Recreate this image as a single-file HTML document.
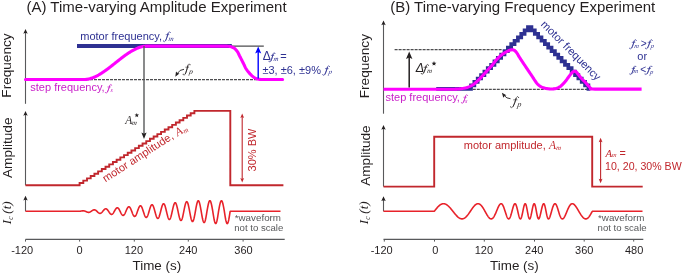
<!DOCTYPE html>
<html><head><meta charset="utf-8"><style>
html,body{margin:0;padding:0;background:#fff;width:685px;height:274px;overflow:hidden;}
svg{display:block;will-change:transform;}
</style></head><body>
<svg width="685" height="274" viewBox="0 0 685 274" style="font-family:'Liberation Sans',sans-serif">
<rect width="685" height="274" fill="#fff"/>
<text x="26.47" y="12" style="font-family:'Liberation Sans',sans-serif;font-size:15px" fill="#231f20" >(A) Time-varying Amplitude Experiment</text>
<text x="390.17" y="12" style="font-family:'Liberation Sans',sans-serif;font-size:15px" fill="#231f20" >(B) Time-varying Frequency Experiment</text>
<text transform="translate(11.1,65.55) rotate(-90)" text-anchor="middle" style="font-family:'Liberation Sans',sans-serif;font-size:13.6px" fill="#231f20">Frequency</text>
<text transform="translate(11.8,147.75) rotate(-90)" text-anchor="middle" style="font-family:'Liberation Sans',sans-serif;font-size:13.6px" fill="#231f20">Amplitude</text>
<text transform="translate(10.8,224.3) rotate(-90)" style="font-family:'Liberation Serif',serif;font-style:italic;font-size:13px" fill="#231f20">I<tspan style="font-size:7.3px" dx="0.14" dy="2.1">c</tspan><tspan dx="2.93" dy="-2.1">(</tspan>t)</text>
<text transform="translate(369.1,66.15) rotate(-90)" text-anchor="middle" style="font-family:'Liberation Sans',sans-serif;font-size:13.6px" fill="#231f20">Frequency</text>
<text transform="translate(369.8,155.6) rotate(-90)" text-anchor="middle" style="font-family:'Liberation Sans',sans-serif;font-size:13.6px" fill="#231f20">Amplitude</text>
<text transform="translate(368.3,224.3) rotate(-90)" style="font-family:'Liberation Serif',serif;font-style:italic;font-size:13px" fill="#231f20">I<tspan style="font-size:7.3px" dx="0.14" dy="2.1">c</tspan><tspan dx="2.93" dy="-2.1">(</tspan>t)</text>
<line x1="25.5" y1="32" x2="25.5" y2="103.8" stroke="#58595b" stroke-width="1.1"/>
<path d="M25.5 29 L27.7 33.8 L25.5 32.84 L23.3 33.8 Z" fill="#231f20"/>
<line x1="25.5" y1="114" x2="25.5" y2="185.3" stroke="#58595b" stroke-width="1.1"/>
<path d="M25.5 111 L27.7 115.8 L25.5 114.84 L23.3 115.8 Z" fill="#231f20"/>
<line x1="25.5" y1="198.7" x2="25.5" y2="211.3" stroke="#58595b" stroke-width="1.1"/>
<path d="M25.5 195.7 L27.7 200.5 L25.5 199.54 L23.3 200.5 Z" fill="#231f20"/>
<line x1="383.5" y1="23.5" x2="383.5" y2="113.7" stroke="#58595b" stroke-width="1.1"/>
<path d="M383.5 20.5 L385.7 25.3 L383.5 24.34 L381.3 25.3 Z" fill="#231f20"/>
<line x1="383.5" y1="127.9" x2="383.5" y2="186.6" stroke="#58595b" stroke-width="1.1"/>
<path d="M383.5 124.9 L385.7 129.7 L383.5 128.74 L381.3 129.7 Z" fill="#231f20"/>
<line x1="383.5" y1="199.3" x2="383.5" y2="211.3" stroke="#58595b" stroke-width="1.1"/>
<path d="M383.5 196.3 L385.7 201.1 L383.5 200.14 L381.3 201.1 Z" fill="#231f20"/>
<line x1="25.5" y1="239.4" x2="284.7" y2="239.4" stroke="#58595b" stroke-width="1.1"/>
<line x1="25.5" y1="239.4" x2="25.5" y2="241.6" stroke="#58595b" stroke-width="1"/>
<text x="11.21" y="253.5" style="font-family:'Liberation Sans',sans-serif;font-size:11px" fill="#231f20" >-120</text>
<line x1="79.6" y1="239.4" x2="79.6" y2="241.6" stroke="#58595b" stroke-width="1"/>
<text x="76.47" y="253.5" style="font-family:'Liberation Sans',sans-serif;font-size:11px" fill="#231f20" >0</text>
<line x1="134.3" y1="239.4" x2="134.3" y2="241.6" stroke="#58595b" stroke-width="1"/>
<text x="124.66" y="253.5" style="font-family:'Liberation Sans',sans-serif;font-size:11px" fill="#231f20" >120</text>
<line x1="188.3" y1="239.4" x2="188.3" y2="241.6" stroke="#58595b" stroke-width="1"/>
<text x="179.05" y="253.5" style="font-family:'Liberation Sans',sans-serif;font-size:11px" fill="#231f20" >240</text>
<line x1="243.1" y1="239.4" x2="243.1" y2="241.6" stroke="#58595b" stroke-width="1"/>
<text x="234.28" y="253.5" style="font-family:'Liberation Sans',sans-serif;font-size:11px" fill="#231f20" >360</text>
<line x1="383.5" y1="239.4" x2="643.3" y2="239.4" stroke="#58595b" stroke-width="1.1"/>
<line x1="384.3" y1="239.4" x2="384.3" y2="241.6" stroke="#58595b" stroke-width="1"/>
<text x="370.71" y="253.5" style="font-family:'Liberation Sans',sans-serif;font-size:11px" fill="#231f20" >-120</text>
<line x1="434.5" y1="239.4" x2="434.5" y2="241.6" stroke="#58595b" stroke-width="1"/>
<text x="432.37" y="253.5" style="font-family:'Liberation Sans',sans-serif;font-size:11px" fill="#231f20" >0</text>
<line x1="484.3" y1="239.4" x2="484.3" y2="241.6" stroke="#58595b" stroke-width="1"/>
<text x="474.66" y="253.5" style="font-family:'Liberation Sans',sans-serif;font-size:11px" fill="#231f20" >120</text>
<line x1="534.5" y1="239.4" x2="534.5" y2="241.6" stroke="#58595b" stroke-width="1"/>
<text x="525.05" y="253.5" style="font-family:'Liberation Sans',sans-serif;font-size:11px" fill="#231f20" >240</text>
<line x1="584.2" y1="239.4" x2="584.2" y2="241.6" stroke="#58595b" stroke-width="1"/>
<text x="575.08" y="253.5" style="font-family:'Liberation Sans',sans-serif;font-size:11px" fill="#231f20" >360</text>
<line x1="633.7" y1="239.4" x2="633.7" y2="241.6" stroke="#58595b" stroke-width="1"/>
<text x="624.95" y="253.5" style="font-family:'Liberation Sans',sans-serif;font-size:11px" fill="#231f20" >480</text>
<text x="132.5" y="269.8" style="font-family:'Liberation Sans',sans-serif;font-size:13.4px" fill="#231f20" >Time (s)</text>
<text x="490.1" y="269.8" style="font-family:'Liberation Sans',sans-serif;font-size:13.4px" fill="#231f20" >Time (s)</text>
<line x1="26" y1="79.5" x2="257" y2="79.5" stroke="#4d4d4f" stroke-width="1.25" stroke-dasharray="3 1"/>
<line x1="231" y1="46.2" x2="263.8" y2="46.2" stroke="#4d4d4f" stroke-width="1.3"/>
<line x1="77" y1="46" x2="231.8" y2="46" stroke="#2e3192" stroke-width="4"/>
<path d="M25.5 79.5 L26 79.5 L26.5 79.5 L27 79.5 L27.5 79.5 L28 79.5 L28.5 79.5 L29 79.5 L29.5 79.5 L30 79.5 L30.5 79.5 L31 79.5 L31.5 79.5 L32 79.5 L32.5 79.5 L33 79.5 L33.5 79.5 L34 79.5 L34.5 79.5 L35 79.5 L35.5 79.5 L36 79.5 L36.5 79.5 L37 79.5 L37.5 79.5 L38 79.5 L38.5 79.5 L39 79.5 L39.5 79.5 L40 79.5 L40.5 79.5 L41 79.5 L41.5 79.5 L42 79.5 L42.5 79.5 L43 79.5 L43.5 79.5 L44 79.5 L44.5 79.5 L45 79.5 L45.5 79.5 L46 79.5 L46.5 79.5 L47 79.5 L47.5 79.5 L48 79.5 L48.5 79.5 L49 79.5 L49.5 79.5 L50 79.5 L50.5 79.5 L51 79.5 L51.5 79.5 L52 79.5 L52.5 79.5 L53 79.5 L53.5 79.5 L54 79.5 L54.5 79.5 L55 79.5 L55.5 79.5 L56 79.5 L56.5 79.5 L57 79.5 L57.5 79.5 L58 79.5 L58.5 79.5 L59 79.5 L59.5 79.5 L60 79.5 L60.5 79.5 L61 79.5 L61.5 79.5 L62 79.5 L62.5 79.5 L63 79.5 L63.5 79.5 L64 79.5 L64.5 79.5 L65 79.5 L65.5 79.5 L66 79.5 L66.5 79.5 L67 79.5 L67.5 79.5 L68 79.5 L68.5 79.5 L69 79.5 L69.5 79.5 L70 79.5 L70.5 79.5 L71 79.5 L71.5 79.5 L72 79.5 L72.5 79.5 L73 79.5 L73.5 79.5 L74 79.5 L74.5 79.5 L75 79.5 L75.5 79.5 L76 79.5 L76.5 79.5 L77 79.5 L77.5 79.5 L78 79.5 L78.5 79.5 L79 79.5 L79.5 79.5 L80 79.5 L80.5 79.5 L81 79.5 L81.5 79.5 L82 79.5 L82.5 79.5 L83 79.5 L83.5 79.5 L84 79.5 L84.5 79.49 L85 79.48 L85.5 79.44 L86 79.4 L86.5 79.35 L87 79.28 L87.5 79.2 L88 79.11 L88.5 79.01 L89 78.9 L89.5 78.78 L90 78.65 L90.5 78.51 L91 78.35 L91.5 78.19 L92 78.02 L92.5 77.84 L93 77.65 L93.5 77.45 L94 77.24 L94.5 77.03 L95 76.8 L95.5 76.57 L96 76.33 L96.5 76.08 L97 75.82 L97.5 75.56 L98 75.28 L98.5 75.01 L99 74.72 L99.5 74.43 L100 74.13 L100.5 73.83 L101 73.52 L101.5 73.2 L102 72.88 L102.5 72.55 L103 72.22 L103.5 71.88 L104 71.54 L104.5 71.19 L105 70.84 L105.5 70.49 L106 70.13 L106.5 69.76 L107 69.4 L107.5 69.03 L108 68.65 L108.5 68.28 L109 67.9 L109.5 67.51 L110 67.13 L110.5 66.74 L111 66.35 L111.5 65.96 L112 65.57 L112.5 65.18 L113 64.78 L113.5 64.39 L114 63.99 L114.5 63.59 L115 63.2 L115.5 62.8 L116 62.4 L116.5 62.01 L117 61.61 L117.5 61.21 L118 60.82 L118.5 60.42 L119 60.03 L119.5 59.64 L120 59.25 L120.5 58.86 L121 58.47 L121.5 58.09 L122 57.7 L122.5 57.32 L123 56.95 L123.5 56.57 L124 56.2 L124.5 55.84 L125 55.47 L125.5 55.11 L126 54.76 L126.5 54.41 L127 54.06 L127.5 53.72 L128 53.38 L128.5 53.05 L129 52.72 L129.5 52.4 L130 52.08 L130.5 51.77 L131 51.47 L131.5 51.17 L132 50.88 L132.5 50.59 L133 50.32 L133.5 50.04 L134 49.78 L134.5 49.52 L135 49.27 L135.5 49.03 L136 48.8 L136.5 48.57 L137 48.36 L137.5 48.15 L138 47.95 L138.5 47.76 L139 47.58 L139.5 47.41 L140 47.25 L140.5 47.09 L141 46.95 L141.5 46.82 L142 46.7 L142.5 46.59 L143 46.49 L143.5 46.4 L144 46.32 L144.5 46.25 L145 46.2 L145.5 46.16 L146 46.12 L146.5 46.11 L147 46.1 L147.5 46.1 L148 46.1 L148.5 46.1 L149 46.1 L149.5 46.1 L150 46.1 L150.5 46.1 L151 46.1 L151.5 46.1 L152 46.1 L152.5 46.1 L153 46.1 L153.5 46.1 L154 46.1 L154.5 46.1 L155 46.1 L155.5 46.1 L156 46.1 L156.5 46.1 L157 46.1 L157.5 46.1 L158 46.1 L158.5 46.1 L159 46.1 L159.5 46.1 L160 46.1 L160.5 46.1 L161 46.1 L161.5 46.1 L162 46.1 L162.5 46.1 L163 46.1 L163.5 46.1 L164 46.1 L164.5 46.1 L165 46.1 L165.5 46.1 L166 46.1 L166.5 46.1 L167 46.1 L167.5 46.1 L168 46.1 L168.5 46.1 L169 46.1 L169.5 46.1 L170 46.1 L170.5 46.1 L171 46.1 L171.5 46.1 L172 46.1 L172.5 46.1 L173 46.1 L173.5 46.1 L174 46.1 L174.5 46.1 L175 46.1 L175.5 46.1 L176 46.1 L176.5 46.1 L177 46.1 L177.5 46.1 L178 46.1 L178.5 46.1 L179 46.1 L179.5 46.1 L180 46.1 L180.5 46.1 L181 46.1 L181.5 46.1 L182 46.1 L182.5 46.1 L183 46.1 L183.5 46.1 L184 46.1 L184.5 46.1 L185 46.1 L185.5 46.1 L186 46.1 L186.5 46.1 L187 46.1 L187.5 46.1 L188 46.1 L188.5 46.1 L189 46.1 L189.5 46.1 L190 46.1 L190.5 46.1 L191 46.1 L191.5 46.1 L192 46.1 L192.5 46.1 L193 46.1 L193.5 46.1 L194 46.1 L194.5 46.1 L195 46.1 L195.5 46.1 L196 46.1 L196.5 46.1 L197 46.1 L197.5 46.1 L198 46.1 L198.5 46.1 L199 46.1 L199.5 46.1 L200 46.1 L200.5 46.1 L201 46.1 L201.5 46.1 L202 46.1 L202.5 46.1 L203 46.1 L203.5 46.1 L204 46.1 L204.5 46.1 L205 46.1 L205.5 46.1 L206 46.1 L206.5 46.1 L207 46.1 L207.5 46.1 L208 46.1 L208.5 46.1 L209 46.1 L209.5 46.1 L210 46.1 L210.5 46.1 L211 46.1 L211.5 46.1 L212 46.1 L212.5 46.1 L213 46.1 L213.5 46.1 L214 46.1 L214.5 46.1 L215 46.1 L215.5 46.1 L216 46.1 L216.5 46.1 L217 46.1 L217.5 46.1 L218 46.1 L218.5 46.1 L219 46.1 L219.5 46.1 L220 46.1 L220.5 46.1 L221 46.1 L221.5 46.1 L222 46.1 L222.5 46.1 L223 46.1 L223.5 46.1 L224 46.1 L224.5 46.1 L225 46.1 L225.5 46.1 L226.29 46.12 L226.67 46.14 L227.14 46.17 L227.65 46.21 L228.18 46.25 L228.7 46.29 L229.18 46.34 L229.6 46.4 L229.96 46.46 L230.28 46.54 L230.59 46.61 L230.87 46.69 L231.15 46.78 L231.43 46.88 L231.71 46.99 L232 47.1 L232.31 47.22 L232.62 47.36 L232.94 47.5 L233.25 47.64 L233.56 47.8 L233.86 47.96 L234.14 48.13 L234.4 48.3 L234.64 48.48 L234.85 48.66 L235.05 48.84 L235.24 49.04 L235.43 49.24 L235.61 49.45 L235.8 49.67 L236 49.9 L236.21 50.14 L236.42 50.38 L236.63 50.62 L236.84 50.88 L237.05 51.15 L237.27 51.44 L237.48 51.75 L237.7 52.1 L237.92 52.48 L238.13 52.89 L238.35 53.32 L238.57 53.77 L238.79 54.24 L239.02 54.72 L239.26 55.21 L239.5 55.7 L239.76 56.2 L240.02 56.72 L240.3 57.26 L240.57 57.8 L240.86 58.35 L241.14 58.9 L241.42 59.45 L241.7 60 L241.97 60.55 L242.25 61.09 L242.52 61.64 L242.8 62.19 L243.07 62.75 L243.35 63.3 L243.62 63.85 L243.9 64.4 L244.17 64.95 L244.42 65.5 L244.67 66.04 L244.92 66.59 L245.18 67.14 L245.46 67.69 L245.76 68.24 L246.1 68.8 L246.47 69.37 L246.87 69.96 L247.3 70.55 L247.74 71.15 L248.2 71.74 L248.67 72.32 L249.13 72.87 L249.6 73.4 L250.07 73.91 L250.56 74.41 L251.05 74.9 L251.55 75.38 L252.05 75.83 L252.54 76.25 L253.03 76.64 L253.5 77 L253.96 77.32 L254.41 77.6 L254.86 77.86 L255.31 78.09 L255.74 78.29 L256.17 78.48 L256.59 78.64 L257 78.8 L257.4 78.94 L257.79 79.05 L258.16 79.13 L258.53 79.21 L258.9 79.26 L259.26 79.31 L259.63 79.36 L260 79.4 L260.26 79.44 L260.36 79.46 L260.4 79.48 L260.46 79.49 L260.66 79.49 L261.08 79.49 L261.83 79.5 L263 79.5 L264.79 79.5 L267.19 79.51 L270 79.51 L272.99 79.51 L275.96 79.5 L278.69 79.5 L280.97 79.5 L282.6 79.5" fill="none" stroke="#ff00ff" stroke-width="3.1" stroke-linejoin="round" stroke-linecap="round"/>
<line x1="144" y1="46" x2="144" y2="134" stroke="#58595b" stroke-width="1.4"/>
<path d="M144 138.9 L146.6 132.6 L144 133.86 L141.4 132.6 Z" fill="#231f20"/>
<line x1="258.2" y1="52" x2="258.2" y2="78.6" stroke="#0000ff" stroke-width="1.4"/>
<path d="M258.2 46.4 L261.25 53.4 L258.2 52 L255.15 53.4 Z" fill="#0000ff"/>
<text x="80.27" y="39.6" style="font-family:'Liberation Sans',sans-serif;font-size:11px" fill="#2e3192" >motor frequency,</text>
<g fill="none" stroke="#2e3192" stroke-linecap="round"><path d="M170.2 32.61 C170.12 31.9 169.37 31.63 168.94 31.9 C168.52 32.17 168.25 32.77 168.09 33.42 C167.55 35.58 166.48 38.93 165.62 40.55 C165.08 41.53 164.33 41.85 163.9 41.64 C163.58 41.47 163.47 41.2 163.51 40.9" stroke-width="0.6"/><path d="M168.09 33.42 C167.55 35.58 166.48 38.93 165.62 40.55" stroke-width="0.84"/><path d="M166.08 34.71 L168.9 34.71" stroke-width="0.6"/><circle cx="170.2" cy="32.61" r="0.44" fill="#2e3192" stroke="none"/><circle cx="163.51" cy="40.9" r="0.4" fill="#2e3192" stroke="none"/></g>
<text transform="translate(168.15,40.9) skewX(-10)" style="font-family:'Liberation Serif',serif;font-size:7px;font-style:italic" fill="#2e3192">m</text>
<text x="30.29" y="91.1" style="font-family:'Liberation Sans',sans-serif;font-size:11px" fill="#c81ec8" >step frequency,</text>
<g fill="none" stroke="#c81ec8" stroke-linecap="round"><path d="M111.6 85.11 C111.53 84.49 110.84 84.25 110.44 84.49 C110.04 84.73 109.79 85.25 109.64 85.82 C109.15 87.72 108.16 90.67 107.36 92.09 C106.86 92.95 106.17 93.23 105.77 93.04 C105.47 92.9 105.38 92.66 105.4 92.4" stroke-width="0.6"/><path d="M109.64 85.82 C109.15 87.72 108.16 90.67 107.36 92.09" stroke-width="0.84"/><path d="M107.79 86.96 L110.4 86.96" stroke-width="0.6"/><circle cx="111.6" cy="85.11" r="0.44" fill="#c81ec8" stroke="none"/><circle cx="105.4" cy="92.4" r="0.4" fill="#c81ec8" stroke="none"/></g>
<text transform="translate(110.13,92) skewX(-10)" style="font-family:'Liberation Serif',serif;font-size:6.2px;font-style:italic" fill="#c81ec8">s</text>
<text x="262.64" y="60.3" style="font-family:'Liberation Sans',sans-serif;font-size:12px" fill="#2e3192" >Δ</text>
<g fill="none" stroke="#2e3192" stroke-linecap="round"><path d="M274.9 53.46 C274.83 52.8 274.18 52.54 273.81 52.8 C273.44 53.05 273.21 53.61 273.07 54.22 C272.61 56.25 271.68 59.4 270.93 60.92 C270.47 61.84 269.82 62.14 269.45 61.94 C269.17 61.79 269.08 61.53 269.1 61.25" stroke-width="0.6"/><path d="M273.07 54.22 C272.61 56.25 271.68 59.4 270.93 60.92" stroke-width="0.84"/><path d="M271.33 55.44 L273.78 55.44" stroke-width="0.6"/><circle cx="274.9" cy="53.46" r="0.44" fill="#2e3192" stroke="none"/><circle cx="269.1" cy="61.25" r="0.4" fill="#2e3192" stroke="none"/></g>
<text transform="translate(273.26,60.6) skewX(-10)" style="font-family:'Liberation Serif',serif;font-size:6.7px;font-style:italic" fill="#2e3192">m</text>
<text x="280.26" y="59.75" style="font-family:'Liberation Sans',sans-serif;font-size:11px" fill="#2e3192" >=</text>
<text x="262.45" y="73.5" style="font-family:'Liberation Sans',sans-serif;font-size:11px" fill="#2e3192" >±3, ±6, ±9%</text>
<g fill="none" stroke="#2e3192" stroke-linecap="round"><path d="M329.5 66.58 C329.42 65.9 328.67 65.64 328.24 65.9 C327.82 66.16 327.55 66.74 327.39 67.37 C326.85 69.47 325.78 72.72 324.92 74.29 C324.38 75.23 323.63 75.55 323.2 75.34 C322.88 75.18 322.77 74.92 322.81 74.62" stroke-width="0.6"/><path d="M327.39 67.37 C326.85 69.47 325.78 72.72 324.92 74.29" stroke-width="0.84"/><path d="M325.38 68.63 L328.2 68.63" stroke-width="0.6"/><circle cx="329.5" cy="66.58" r="0.44" fill="#2e3192" stroke="none"/><circle cx="322.81" cy="74.62" r="0.4" fill="#2e3192" stroke="none"/></g>
<text transform="translate(328.15,74.3) skewX(-10)" style="font-family:'Liberation Serif',serif;font-size:6.8px;font-style:italic" fill="#2e3192">p</text>
<g fill="none" stroke="#231f20" stroke-linecap="round"><path d="M190 64.81 C189.92 64.02 189.16 63.71 188.73 64.02 C188.29 64.32 188.02 65 187.85 65.73 C187.31 68.18 186.22 71.97 185.35 73.8 C184.81 74.91 184.04 75.27 183.61 75.03 C183.28 74.84 183.17 74.54 183.21 74.2" stroke-width="0.6"/><path d="M187.85 65.73 C187.31 68.18 186.22 71.97 185.35 73.8" stroke-width="0.84"/><path d="M185.82 67.2 L188.68 67.2" stroke-width="0.6"/><circle cx="190" cy="64.81" r="0.44" fill="#231f20" stroke="none"/><circle cx="183.21" cy="74.2" r="0.4" fill="#231f20" stroke="none"/></g>
<text transform="translate(188.72,74.3) skewX(-10)" style="font-family:'Liberation Serif',serif;font-size:7.5px;font-style:italic" fill="#231f20">p</text>
<path d="M184 69.3 Q179.5 69.6 177.6 73.2" fill="none" stroke="#231f20" stroke-width="0.9"/>
<path d="M175.3 76.7 L176.01 71.55 L177.49 72.98 L179.46 73.58 Z" fill="#231f20"/>
<text x="125.23" y="124.1" style="font-family:'Liberation Serif',serif;font-size:11.5px;font-style:italic" fill="#231f20">A</text>
<text transform="translate(131.55,124.9) skewX(-10)" style="font-family:'Liberation Serif',serif;font-size:7px;font-style:italic" fill="#231f20">m</text>
<path d="M136.8 112.9 L137.42 114.45 L139.08 114.56 L137.8 115.62 L138.21 117.24 L136.8 116.35 L135.39 117.24 L135.8 115.62 L134.52 114.56 L136.18 114.45 Z" fill="#231f20"/>
<path d="M25.5 185.3 L79.6 185.3 L79.6 182.98 L83.3 182.98 L83.3 180.65 L87.01 180.65 L87.01 178.33 L90.71 178.33 L90.71 176 L94.41 176 L94.41 173.68 L98.12 173.68 L98.12 171.35 L101.82 171.35 L101.82 169.03 L105.52 169.03 L105.52 166.7 L109.23 166.7 L109.23 164.38 L112.93 164.38 L112.93 162.05 L116.63 162.05 L116.63 159.73 L120.34 159.73 L120.34 157.4 L124.04 157.4 L124.04 155.08 L127.74 155.08 L127.74 152.75 L131.45 152.75 L131.45 150.43 L135.15 150.43 L135.15 148.1 L138.85 148.1 L138.85 145.78 L142.55 145.78 L142.55 143.45 L146.26 143.45 L146.26 141.12 L149.96 141.12 L149.96 138.8 L153.66 138.8 L153.66 136.48 L157.37 136.48 L157.37 134.15 L161.07 134.15 L161.07 131.83 L164.77 131.83 L164.77 129.5 L168.48 129.5 L168.48 127.18 L172.18 127.18 L172.18 124.85 L175.88 124.85 L175.88 122.53 L179.59 122.53 L179.59 120.2 L183.29 120.2 L183.29 117.88 L186.99 117.88 L186.99 115.55 L190.7 115.55 L190.7 113.23 L194.4 113.23 L194.4 110.9 L230.3 110.9 L230.3 185.3 L283.4 185.3" fill="none" stroke="#c1272d" stroke-width="1.9" stroke-linejoin="miter"/>
<text transform="translate(105.5,182.5) rotate(-32.95)" style="font-size:11px" fill="#c1272d">motor amplitude, <tspan style="font-family:'Liberation Serif',serif;font-style:italic;font-size:11.5px" dx="0.6" dy="0.6">A<tspan style="font-size:7px" dx="0.3" dy="1.6">m</tspan></tspan></text>
<line x1="242.2" y1="117" x2="242.2" y2="179" stroke="#c1272d" stroke-width="1.1"/>
<path d="M242.2 113.5 L244.1 118 L242.2 117.1 L240.3 118 Z" fill="#c1272d"/>
<path d="M242.2 182.5 L244.1 178 L242.2 178.9 L240.3 178 Z" fill="#c1272d"/>
<text transform="translate(255.6,150) rotate(-90)" text-anchor="middle" style="font-family:'Liberation Sans',sans-serif;font-size:11px" fill="#c1272d">30% BW</text>
<path d="M25.5 211.3 L25.75 211.3 L26 211.3 L26.25 211.3 L26.5 211.3 L26.75 211.3 L27 211.3 L27.25 211.3 L27.5 211.3 L27.75 211.3 L28 211.3 L28.25 211.3 L28.5 211.3 L28.75 211.3 L29 211.3 L29.25 211.3 L29.5 211.3 L29.75 211.3 L30 211.3 L30.25 211.3 L30.5 211.3 L30.75 211.3 L31 211.3 L31.25 211.3 L31.5 211.3 L31.75 211.3 L32 211.3 L32.25 211.3 L32.5 211.3 L32.75 211.3 L33 211.3 L33.25 211.3 L33.5 211.3 L33.75 211.3 L34 211.3 L34.25 211.3 L34.5 211.3 L34.75 211.3 L35 211.3 L35.25 211.3 L35.5 211.3 L35.75 211.3 L36 211.3 L36.25 211.3 L36.5 211.3 L36.75 211.3 L37 211.3 L37.25 211.3 L37.5 211.3 L37.75 211.3 L38 211.3 L38.25 211.3 L38.5 211.3 L38.75 211.3 L39 211.3 L39.25 211.3 L39.5 211.3 L39.75 211.3 L40 211.3 L40.25 211.3 L40.5 211.3 L40.75 211.3 L41 211.3 L41.25 211.3 L41.5 211.3 L41.75 211.3 L42 211.3 L42.25 211.3 L42.5 211.3 L42.75 211.3 L43 211.3 L43.25 211.3 L43.5 211.3 L43.75 211.3 L44 211.3 L44.25 211.3 L44.5 211.3 L44.75 211.3 L45 211.3 L45.25 211.3 L45.5 211.3 L45.75 211.3 L46 211.3 L46.25 211.3 L46.5 211.3 L46.75 211.3 L47 211.3 L47.25 211.3 L47.5 211.3 L47.75 211.3 L48 211.3 L48.25 211.3 L48.5 211.3 L48.75 211.3 L49 211.3 L49.25 211.3 L49.5 211.3 L49.75 211.3 L50 211.3 L50.25 211.3 L50.5 211.3 L50.75 211.3 L51 211.3 L51.25 211.3 L51.5 211.3 L51.75 211.3 L52 211.3 L52.25 211.3 L52.5 211.3 L52.75 211.3 L53 211.3 L53.25 211.3 L53.5 211.3 L53.75 211.3 L54 211.3 L54.25 211.3 L54.5 211.3 L54.75 211.3 L55 211.3 L55.25 211.3 L55.5 211.3 L55.75 211.3 L56 211.3 L56.25 211.3 L56.5 211.3 L56.75 211.3 L57 211.3 L57.25 211.3 L57.5 211.3 L57.75 211.3 L58 211.3 L58.25 211.3 L58.5 211.3 L58.75 211.3 L59 211.3 L59.25 211.3 L59.5 211.3 L59.75 211.3 L60 211.3 L60.25 211.3 L60.5 211.3 L60.75 211.3 L61 211.3 L61.25 211.3 L61.5 211.3 L61.75 211.3 L62 211.3 L62.25 211.3 L62.5 211.3 L62.75 211.3 L63 211.3 L63.25 211.3 L63.5 211.3 L63.75 211.3 L64 211.3 L64.25 211.3 L64.5 211.3 L64.75 211.3 L65 211.3 L65.25 211.3 L65.5 211.3 L65.75 211.3 L66 211.3 L66.25 211.3 L66.5 211.3 L66.75 211.3 L67 211.3 L67.25 211.3 L67.5 211.3 L67.75 211.3 L68 211.3 L68.25 211.3 L68.5 211.3 L68.75 211.3 L69 211.3 L69.25 211.3 L69.5 211.3 L69.75 211.3 L70 211.3 L70.25 211.3 L70.5 211.3 L70.75 211.3 L71 211.3 L71.25 211.3 L71.5 211.3 L71.75 211.3 L72 211.3 L72.25 211.3 L72.5 211.3 L72.75 211.3 L73 211.3 L73.25 211.3 L73.5 211.3 L73.75 211.3 L74 211.3 L74.25 211.3 L74.5 211.3 L74.75 211.3 L75 211.3 L75.25 211.3 L75.5 211.3 L75.75 211.3 L76 211.3 L76.25 211.3 L76.5 211.3 L76.75 211.3 L77 211.3 L77.25 211.3 L77.5 211.3 L77.75 211.3 L78 211.3 L78.25 211.3 L78.5 211.3 L78.75 211.3 L79 211.3 L79.25 211.3 L79.5 211.3 L79.75 211.28 L80 211.25 L80.25 211.21 L80.5 211.17 L80.75 211.12 L81 211.08 L81.25 211.03 L81.5 210.99 L81.75 210.94 L82 210.9 L82.25 210.87 L82.5 210.84 L82.75 210.83 L83 210.82 L83.25 210.82 L83.5 210.84 L83.75 210.86 L84 210.9 L84.25 210.95 L84.5 211.01 L84.75 211.08 L85 211.16 L85.25 211.25 L85.5 211.35 L85.75 211.46 L86 211.58 L86.25 211.7 L86.5 211.81 L86.75 211.93 L87 212.03 L87.25 212.12 L87.5 212.21 L87.75 212.27 L88 212.33 L88.25 212.36 L88.5 212.38 L88.75 212.37 L89 212.34 L89.25 212.3 L89.5 212.23 L89.75 212.14 L90 212.03 L90.25 211.9 L90.5 211.75 L90.75 211.6 L91 211.43 L91.25 211.25 L91.5 211.08 L91.75 210.91 L92 210.74 L92.25 210.58 L92.5 210.42 L92.75 210.28 L93 210.15 L93.25 210.04 L93.5 209.95 L93.75 209.88 L94 209.83 L94.25 209.82 L94.5 209.83 L94.75 209.87 L95 209.94 L95.25 210.03 L95.5 210.16 L95.75 210.3 L96 210.47 L96.25 210.67 L96.5 210.87 L96.75 211.1 L97 211.33 L97.25 211.58 L97.5 211.83 L97.75 212.08 L98 212.32 L98.25 212.54 L98.5 212.75 L98.75 212.93 L99 213.09 L99.25 213.22 L99.5 213.31 L99.75 213.37 L100 213.39 L100.25 213.37 L100.5 213.31 L100.75 213.22 L101 213.08 L101.25 212.91 L101.5 212.71 L101.75 212.47 L102 212.21 L102.25 211.93 L102.5 211.63 L102.75 211.31 L103 211.01 L103.25 210.7 L103.5 210.4 L103.75 210.11 L104 209.84 L104.25 209.59 L104.5 209.36 L104.75 209.17 L105 209.02 L105.25 208.9 L105.5 208.83 L105.75 208.8 L106 208.82 L106.25 208.89 L106.5 209 L106.75 209.15 L107 209.35 L107.25 209.59 L107.5 209.87 L107.75 210.17 L108 210.51 L108.25 210.86 L108.5 211.23 L108.75 211.61 L109 212 L109.25 212.38 L109.5 212.74 L109.75 213.09 L110 213.41 L110.25 213.69 L110.5 213.93 L110.75 214.13 L111 214.27 L111.25 214.37 L111.5 214.41 L111.75 214.39 L112 214.31 L112.25 214.18 L112.5 213.99 L112.75 213.74 L113 213.45 L113.25 213.12 L113.5 212.75 L113.75 212.34 L114 211.91 L114.25 211.46 L114.5 211.02 L114.75 210.57 L115 210.14 L115.25 209.72 L115.5 209.32 L115.75 208.96 L116 208.63 L116.25 208.35 L116.5 208.12 L116.75 207.95 L117 207.84 L117.25 207.79 L117.5 207.8 L117.75 207.88 L118 208.02 L118.25 208.23 L118.5 208.5 L118.75 208.82 L119 209.19 L119.25 209.6 L119.5 210.06 L119.75 210.54 L120 211.04 L120.25 211.55 L120.5 212.08 L120.75 212.59 L121 213.09 L121.25 213.56 L121.5 214 L121.75 214.39 L122 214.72 L122.25 215 L122.5 215.21 L122.75 215.35 L123 215.42 L123.25 215.41 L123.5 215.33 L123.75 215.17 L124 214.93 L124.25 214.63 L124.5 214.26 L124.75 213.83 L125 213.36 L125.25 212.84 L125.5 212.28 L125.75 211.7 L126 211.11 L126.25 210.53 L126.5 209.96 L126.75 209.41 L127 208.88 L127.25 208.4 L127.5 207.96 L127.75 207.58 L128 207.27 L128.25 207.03 L128.5 206.86 L128.75 206.78 L129 206.78 L129.25 206.86 L129.5 207.02 L129.75 207.27 L130 207.59 L130.25 207.98 L130.5 208.44 L130.75 208.96 L131 209.53 L131.25 210.13 L131.5 210.76 L131.75 211.41 L132 212.07 L132.25 212.72 L132.5 213.36 L132.75 213.96 L133 214.52 L133.25 215.02 L133.5 215.46 L133.75 215.83 L134 216.12 L134.25 216.31 L134.5 216.42 L134.75 216.44 L135 216.36 L135.25 216.18 L135.5 215.92 L135.75 215.56 L136 215.13 L136.25 214.62 L136.5 214.04 L136.75 213.41 L137 212.73 L137.25 212.03 L137.5 211.3 L137.75 210.58 L138 209.87 L138.25 209.18 L138.5 208.52 L138.75 207.91 L139 207.35 L139.25 206.87 L139.5 206.46 L139.75 206.14 L140 205.91 L140.25 205.78 L140.5 205.75 L140.75 205.82 L141 206 L141.25 206.27 L141.5 206.64 L141.75 207.1 L142 207.63 L142.25 208.24 L142.5 208.92 L142.75 209.64 L143 210.39 L143.25 211.17 L143.5 211.97 L143.75 212.77 L144 213.54 L144.25 214.28 L144.5 214.97 L144.75 215.59 L145 216.15 L145.25 216.61 L145.5 216.98 L145.75 217.25 L146 217.41 L146.25 217.46 L146.5 217.4 L146.75 217.22 L147 216.93 L147.25 216.54 L147.5 216.04 L147.75 215.46 L148 214.79 L148.25 214.06 L148.5 213.27 L148.75 212.44 L149 211.58 L149.25 210.72 L149.5 209.87 L149.75 209.03 L150 208.24 L150.25 207.49 L150.5 206.82 L150.75 206.21 L151 205.7 L151.25 205.29 L151.5 204.99 L151.75 204.8 L152 204.73 L152.25 204.78 L152.5 204.95 L152.75 205.24 L153 205.64 L153.25 206.15 L153.5 206.76 L153.75 207.46 L154 208.23 L154.25 209.07 L154.5 209.95 L154.75 210.86 L155 211.79 L155.25 212.72 L155.5 213.64 L155.75 214.52 L156 215.34 L156.25 216.1 L156.5 216.77 L156.75 217.34 L157 217.81 L157.25 218.16 L157.5 218.38 L157.75 218.48 L158 218.44 L158.25 218.27 L158.5 217.97 L158.75 217.55 L159 217.01 L159.25 216.36 L159.5 215.62 L159.75 214.78 L160 213.89 L160.25 212.93 L160.5 211.94 L160.75 210.94 L161 209.95 L161.25 208.98 L161.5 208.04 L161.75 207.16 L162 206.35 L162.25 205.62 L162.5 205 L162.75 204.49 L163 204.1 L163.25 203.84 L163.5 203.72 L163.75 203.74 L164 203.89 L164.25 204.19 L164.5 204.62 L164.75 205.17 L165 205.84 L165.25 206.61 L165.5 207.48 L165.75 208.42 L166 209.41 L166.25 210.45 L166.5 211.52 L166.75 212.59 L167 213.65 L167.25 214.67 L167.5 215.63 L167.75 216.52 L168 217.32 L168.25 218.01 L168.5 218.58 L168.75 219.02 L169 219.32 L169.25 219.48 L169.5 219.48 L169.75 219.34 L170 219.04 L170.25 218.6 L170.5 218.02 L170.75 217.32 L171 216.5 L171.25 215.58 L171.5 214.58 L171.75 213.51 L172 212.39 L172.25 211.25 L172.5 210.12 L172.75 209.01 L173 207.93 L173.25 206.9 L173.5 205.95 L173.75 205.1 L174 204.36 L174.25 203.74 L174.5 203.25 L174.75 202.91 L175 202.73 L175.25 202.7 L175.5 202.83 L175.75 203.12 L176 203.56 L176.25 204.14 L176.5 204.86 L176.75 205.7 L177 206.65 L177.25 207.69 L177.5 208.8 L177.75 209.96 L178 211.16 L178.25 212.37 L178.5 213.57 L178.75 214.74 L179 215.84 L179.25 216.87 L179.5 217.81 L179.75 218.62 L180 219.31 L180.25 219.85 L180.5 220.24 L180.75 220.46 L181 220.52 L181.25 220.4 L181.5 220.12 L181.75 219.67 L182 219.07 L182.25 218.32 L182.5 217.44 L182.75 216.44 L183 215.35 L183.25 214.17 L183.5 212.93 L183.75 211.66 L184 210.38 L184.25 209.12 L184.5 207.9 L184.75 206.73 L185 205.64 L185.25 204.65 L185.5 203.78 L185.75 203.04 L186 202.45 L186.25 202.02 L186.5 201.76 L186.75 201.67 L187 201.76 L187.25 202.03 L187.5 202.47 L187.75 203.08 L188 203.83 L188.25 204.73 L188.5 205.76 L188.75 206.89 L189 208.11 L189.25 209.39 L189.5 210.71 L189.75 212.06 L190 213.4 L190.25 214.72 L190.5 215.97 L190.75 217.15 L191 218.22 L191.25 219.17 L191.5 219.98 L191.75 220.63 L192 221.11 L192.25 221.42 L192.5 221.54 L192.75 221.47 L193 221.21 L193.25 220.77 L193.5 220.15 L193.75 219.37 L194 218.44 L194.25 217.37 L194.5 216.18 L194.75 214.9 L195 213.55 L195.25 212.15 L195.5 210.74 L195.75 209.33 L196 207.96 L196.25 206.64 L196.5 205.41 L196.75 204.27 L197 203.26 L197.25 202.4 L197.5 201.69 L197.75 201.16 L198 200.84 L198.25 200.7 L198.5 200.77 L198.75 201.02 L199 201.47 L199.25 202.09 L199.5 202.89 L199.75 203.84 L200 204.92 L200.25 206.13 L200.5 207.42 L200.75 208.79 L201 210.21 L201.25 211.66 L201.5 213.15 L201.75 214.61 L202 216.01 L202.25 217.33 L202.5 218.55 L202.75 219.64 L203 220.58 L203.25 221.35 L203.5 221.94 L203.75 222.34 L204 222.54 L204.25 222.52 L204.5 222.31 L204.75 221.88 L205 221.27 L205.25 220.46 L205.5 219.49 L205.75 218.36 L206 217.09 L206.25 215.72 L206.5 214.25 L206.75 212.73 L207 211.18 L207.25 209.75 L207.5 208.35 L207.75 207 L208 205.73 L208.25 204.56 L208.5 203.52 L208.75 202.61 L209 201.87 L209.25 201.3 L209.5 200.92 L209.75 200.72 L210 200.72 L210.25 200.92 L210.5 201.3 L210.75 201.87 L211 202.61 L211.25 203.52 L211.5 204.56 L211.75 205.73 L212 207 L212.25 208.35 L212.5 209.75 L212.75 211.18 L213 212.8 L213.25 214.41 L213.5 215.96 L213.75 217.44 L214 218.81 L214.25 220.04 L214.5 221.12 L214.75 222.02 L215 222.73 L215.25 223.23 L215.5 223.51 L215.75 223.57 L216 223.4 L216.25 222.99 L216.5 222.36 L216.75 221.53 L217 220.51 L217.25 219.32 L217.5 217.99 L217.75 216.53 L218 214.98 L218.25 213.36 L218.5 211.7 L218.75 210.21 L219 208.79 L219.25 207.42 L219.5 206.13 L219.75 204.92 L220 203.84 L220.25 202.89 L220.5 202.09 L220.75 201.47 L221 201.02 L221.25 200.77 L221.5 200.7 L221.75 200.84 L222 201.16 L222.25 201.67 L222.5 202.36 L222.75 203.21 L223 204.21 L223.25 205.34 L223.5 206.58 L223.75 207.91 L224 209.3 L224.25 210.73 L224.5 212.3 L224.75 213.95 L225 215.55 L225.25 217.07 L225.5 218.49 L225.75 219.77 L226 220.9 L226.25 221.85 L226.5 222.61 L226.75 223.16 L227 223.49 L227.25 223.6 L227.5 223.48 L227.75 223.14 L228 222.58 L228.25 221.82 L228.5 220.86 L228.75 219.72 L229 218.43 L229.25 217.01 L229.5 215.49 L229.75 213.88 L230 212.23 L230.25 211.3 L230.5 211.3 L230.75 211.3 L231 211.3 L231.25 211.3 L231.5 211.3 L231.75 211.3 L232 211.3 L232.25 211.3 L232.5 211.3 L232.75 211.3 L233 211.3 L233.25 211.3 L233.5 211.3 L233.75 211.3 L234 211.3 L234.25 211.3 L234.5 211.3 L234.75 211.3 L235 211.3 L235.25 211.3 L235.5 211.3 L235.75 211.3 L236 211.3 L236.25 211.3 L236.5 211.3 L236.75 211.3 L237 211.3 L237.25 211.3 L237.5 211.3 L237.75 211.3 L238 211.3 L238.25 211.3 L238.5 211.3 L238.75 211.3 L239 211.3 L239.25 211.3 L239.5 211.3 L239.75 211.3 L240 211.3 L240.25 211.3 L240.5 211.3 L240.75 211.3 L241 211.3 L241.25 211.3 L241.5 211.3 L241.75 211.3 L242 211.3 L242.25 211.3 L242.5 211.3 L242.75 211.3 L243 211.3 L243.25 211.3 L243.5 211.3 L243.75 211.3 L244 211.3 L244.25 211.3 L244.5 211.3 L244.75 211.3 L245 211.3 L245.25 211.3 L245.5 211.3 L245.75 211.3 L246 211.3 L246.25 211.3 L246.5 211.3 L246.75 211.3 L247 211.3 L247.25 211.3 L247.5 211.3 L247.75 211.3 L248 211.3 L248.25 211.3 L248.5 211.3 L248.75 211.3 L249 211.3 L249.25 211.3 L249.5 211.3 L249.75 211.3 L250 211.3 L250.25 211.3 L250.5 211.3 L250.75 211.3 L251 211.3 L251.25 211.3 L251.5 211.3 L251.75 211.3 L252 211.3 L252.25 211.3 L252.5 211.3 L252.75 211.3 L253 211.3 L253.25 211.3 L253.5 211.3 L253.75 211.3 L254 211.3 L254.25 211.3 L254.5 211.3 L254.75 211.3 L255 211.3 L255.25 211.3 L255.5 211.3 L255.75 211.3 L256 211.3 L256.25 211.3 L256.5 211.3 L256.75 211.3 L257 211.3 L257.25 211.3 L257.5 211.3 L257.75 211.3 L258 211.3 L258.25 211.3 L258.5 211.3 L258.75 211.3 L259 211.3 L259.25 211.3 L259.5 211.3 L259.75 211.3 L260 211.3 L260.25 211.3 L260.5 211.3 L260.75 211.3 L261 211.3 L261.25 211.3 L261.5 211.3 L261.75 211.3 L262 211.3 L262.25 211.3 L262.5 211.3 L262.75 211.3 L263 211.3 L263.25 211.3 L263.5 211.3 L263.75 211.3 L264 211.3 L264.25 211.3 L264.5 211.3 L264.75 211.3 L265 211.3 L265.25 211.3 L265.5 211.3 L265.75 211.3 L266 211.3 L266.25 211.3 L266.5 211.3 L266.75 211.3 L267 211.3 L267.25 211.3 L267.5 211.3 L267.75 211.3 L268 211.3 L268.25 211.3 L268.5 211.3 L268.75 211.3 L269 211.3 L269.25 211.3 L269.5 211.3 L269.75 211.3 L270 211.3 L270.25 211.3 L270.5 211.3 L270.75 211.3 L271 211.3 L271.25 211.3 L271.5 211.3 L271.75 211.3 L272 211.3 L272.25 211.3 L272.5 211.3 L272.75 211.3 L273 211.3 L273.25 211.3 L273.5 211.3 L273.75 211.3 L274 211.3 L274.25 211.3 L274.5 211.3 L274.75 211.3 L275 211.3 L275.25 211.3 L275.5 211.3 L275.75 211.3 L276 211.3 L276.25 211.3 L276.5 211.3 L276.75 211.3 L277 211.3 L277.25 211.3 L277.5 211.3 L277.75 211.3 L278 211.3 L278.25 211.3 L278.5 211.3 L278.75 211.3 L279 211.3 L279.25 211.3 L279.5 211.3 L279.75 211.3 L280 211.3 L280.25 211.3 L280.5 211.3" fill="none" stroke="#e8222a" stroke-width="1.6" stroke-linejoin="round"/>
<text x="234.74" y="221.4" style="font-family:'Liberation Sans',sans-serif;font-size:9.8px" fill="#58595b" >*waveform</text>
<text x="234.26" y="230.7" style="font-family:'Liberation Sans',sans-serif;font-size:9.6px" fill="#58595b" >not to scale</text>
<line x1="394.6" y1="49.5" x2="502" y2="49.5" stroke="#4d4d4f" stroke-width="1.25" stroke-dasharray="3 1"/>
<line x1="472.8" y1="89.4" x2="590" y2="89.4" stroke="#4d4d4f" stroke-width="1.25" stroke-dasharray="3 1"/>
<path d="M436.2 88.8 L471 88.8 L471 85.37 L474.35 85.37 L474.35 81.94 L477.7 81.94 L477.7 78.5 L481.05 78.5 L481.05 75.07 L484.4 75.07 L484.4 71.64 L487.75 71.64 L487.75 68.21 L491.1 68.21 L491.1 64.78 L494.45 64.78 L494.45 61.34 L497.8 61.34 L497.8 57.91 L501.15 57.91 L501.15 54.48 L504.5 54.48 L504.5 51.05 L507.85 51.05 L507.85 47.62 L511.2 47.62 L511.2 44.18 L514.55 44.18 L514.55 40.75 L517.9 40.75 L517.9 37.32 L521.25 37.32 L521.25 33.89 L524.6 33.89 L524.6 30.46 L527.95 30.46 L527.95 27.02 L531.45 27.02 L531.45 30.46 L534.8 30.46 L534.8 33.89 L538.15 33.89 L538.15 37.32 L541.5 37.32 L541.5 40.75 L544.85 40.75 L544.85 44.18 L548.2 44.18 L548.2 47.62 L551.55 47.62 L551.55 51.05 L554.9 51.05 L554.9 54.48 L558.25 54.48 L558.25 57.91 L561.6 57.91 L561.6 61.34 L564.95 61.34 L564.95 64.78 L568.3 64.78 L568.3 68.21 L571.65 68.21 L571.65 71.64 L575 71.64 L575 75.07 L578.35 75.07 L578.35 78.5 L581.7 78.5 L581.7 81.94 L585.05 81.94 L585.05 85.37 L588.4 85.37 L588.4 88.8 L590.3 88.8" fill="none" stroke="#2e3192" stroke-width="3.7" stroke-linejoin="miter" stroke-linecap="butt"/>
<path d="M383.5 89.3 L388.16 89.3 L394.7 89.3 L402.5 89.3 L411 89.3 L419.59 89.3 L427.68 89.3 L434.68 89.3 L440 89.3 L443.67 89.3 L446.27 89.3 L448.02 89.29 L449.16 89.29 L449.9 89.29 L450.46 89.28 L451.09 89.27 L452 89.25 L453.04 89.23 L453.92 89.21 L454.69 89.2 L455.37 89.17 L456.01 89.14 L456.63 89.11 L457.29 89.06 L458 89 L458.77 88.93 L459.55 88.85 L460.35 88.76 L461.14 88.67 L461.92 88.56 L462.68 88.45 L463.41 88.33 L464.1 88.2 L464.75 88.07 L465.36 87.93 L465.94 87.79 L466.5 87.64 L467.05 87.48 L467.59 87.31 L468.14 87.11 L468.7 86.9 L469.27 86.67 L469.85 86.42 L470.43 86.15 L471 85.87 L471.57 85.57 L472.13 85.26 L472.67 84.94 L473.2 84.6 L473.71 84.25 L474.2 83.87 L474.69 83.48 L475.16 83.07 L475.62 82.66 L476.08 82.24 L476.54 81.82 L477 81.4 L477.46 80.98 L477.9 80.57 L478.35 80.15 L478.79 79.73 L479.23 79.29 L479.68 78.85 L480.13 78.38 L480.6 77.9 L481.08 77.39 L481.57 76.86 L482.08 76.31 L482.58 75.75 L483.09 75.18 L483.6 74.61 L484.1 74.05 L484.6 73.5 L485.09 72.96 L485.58 72.42 L486.07 71.88 L486.55 71.35 L487.03 70.82 L487.52 70.28 L488.01 69.74 L488.5 69.2 L489 68.66 L489.5 68.11 L490.01 67.56 L490.52 67.01 L491.03 66.46 L491.53 65.91 L492.02 65.36 L492.5 64.8 L492.96 64.24 L493.41 63.66 L493.84 63.08 L494.28 62.51 L494.7 61.93 L495.13 61.37 L495.56 60.82 L496 60.3 L496.44 59.79 L496.89 59.3 L497.34 58.82 L497.79 58.35 L498.24 57.89 L498.69 57.45 L499.14 57.02 L499.6 56.6 L500.06 56.19 L500.52 55.8 L500.98 55.42 L501.45 55.06 L501.92 54.7 L502.38 54.36 L502.84 54.02 L503.3 53.7 L503.76 53.39 L504.21 53.08 L504.67 52.79 L505.12 52.51 L505.57 52.24 L506.02 51.98 L506.46 51.73 L506.9 51.5 L507.34 51.28 L507.79 51.07 L508.23 50.87 L508.67 50.68 L509.11 50.51 L509.52 50.35 L509.92 50.22 L510.3 50.1 L510.65 50 L510.97 49.92 L511.28 49.85 L511.57 49.8 L511.85 49.77 L512.13 49.76 L512.41 49.77 L512.7 49.8 L512.99 49.85 L513.28 49.92 L513.57 50.01 L513.86 50.11 L514.15 50.24 L514.43 50.4 L514.72 50.58 L515 50.8 L515.28 51.05 L515.56 51.33 L515.83 51.64 L516.11 51.98 L516.38 52.34 L516.65 52.71 L516.93 53.1 L517.2 53.5 L517.47 53.9 L517.72 54.32 L517.97 54.75 L518.23 55.19 L518.49 55.66 L518.77 56.15 L519.07 56.66 L519.4 57.2 L519.77 57.78 L520.17 58.4 L520.6 59.06 L521.04 59.73 L521.49 60.41 L521.94 61.09 L522.38 61.76 L522.8 62.4 L523.21 63.02 L523.62 63.63 L524.02 64.24 L524.42 64.84 L524.82 65.43 L525.21 66.02 L525.61 66.61 L526 67.2 L526.39 67.78 L526.77 68.35 L527.15 68.91 L527.53 69.47 L527.91 70.04 L528.3 70.61 L528.69 71.2 L529.1 71.8 L529.52 72.43 L529.97 73.08 L530.42 73.75 L530.88 74.43 L531.33 75.1 L531.77 75.76 L532.2 76.39 L532.6 77 L532.98 77.58 L533.33 78.14 L533.68 78.69 L534.01 79.22 L534.33 79.74 L534.65 80.24 L534.97 80.73 L535.3 81.2 L535.62 81.65 L535.94 82.09 L536.24 82.5 L536.55 82.91 L536.86 83.3 L537.19 83.67 L537.53 84.04 L537.9 84.4 L538.29 84.75 L538.69 85.1 L539.11 85.43 L539.54 85.76 L539.98 86.07 L540.44 86.36 L540.91 86.64 L541.4 86.9 L541.9 87.14 L542.42 87.37 L542.94 87.58 L543.49 87.77 L544.04 87.95 L544.62 88.11 L545.2 88.26 L545.8 88.4 L546.42 88.53 L547.06 88.64 L547.73 88.74 L548.4 88.83 L549.08 88.9 L549.76 88.96 L550.44 88.99 L551.1 89 L551.77 88.99 L552.45 88.96 L553.13 88.91 L553.81 88.84 L554.48 88.75 L555.12 88.65 L555.73 88.53 L556.3 88.4 L556.83 88.25 L557.33 88.07 L557.8 87.87 L558.25 87.66 L558.67 87.44 L559.07 87.22 L559.45 87.01 L559.8 86.8 L560.11 86.62 L560.36 86.46 L560.58 86.31 L560.78 86.16 L560.98 85.98 L561.21 85.78 L561.47 85.52 L561.8 85.2 L562.19 84.81 L562.62 84.38 L563.09 83.89 L563.59 83.38 L564.1 82.83 L564.61 82.26 L565.11 81.68 L565.6 81.1 L566.08 80.49 L566.57 79.84 L567.07 79.15 L567.56 78.46 L568.05 77.77 L568.52 77.1 L568.97 76.47 L569.4 75.9 L569.8 75.37 L570.19 74.87 L570.56 74.39 L570.92 73.94 L571.26 73.53 L571.59 73.15 L571.9 72.8 L572.2 72.5 L572.48 72.24 L572.74 72.03 L572.98 71.86 L573.21 71.72 L573.43 71.61 L573.65 71.52 L573.87 71.45 L574.1 71.4 L574.33 71.35 L574.55 71.3 L574.77 71.27 L574.99 71.26 L575.21 71.29 L575.45 71.37 L575.71 71.5 L576 71.7 L576.31 71.98 L576.65 72.34 L577.01 72.76 L577.38 73.23 L577.75 73.72 L578.14 74.23 L578.52 74.73 L578.9 75.2 L579.28 75.67 L579.67 76.16 L580.07 76.66 L580.46 77.16 L580.86 77.65 L581.25 78.13 L581.63 78.58 L582 79 L582.35 79.37 L582.68 79.7 L583.01 80 L583.33 80.29 L583.65 80.58 L583.98 80.88 L584.33 81.22 L584.7 81.6 L585.1 82.04 L585.53 82.53 L585.97 83.05 L586.42 83.58 L586.88 84.12 L587.33 84.64 L587.78 85.14 L588.2 85.6 L588.6 86.03 L588.99 86.46 L589.37 86.87 L589.74 87.26 L590.11 87.63 L590.49 87.96 L590.89 88.26 L591.3 88.5 L591.44 88.69 L591.18 88.83 L590.76 88.92 L590.43 88.98 L590.44 89.02 L591.04 89.05 L592.48 89.07 L595 89.1 L599.09 89.13 L604.73 89.14 L611.38 89.14 L618.53 89.14 L625.65 89.13 L632.22 89.11 L637.71 89.1 L641.6 89.1" fill="none" stroke="#ff00ff" stroke-width="3.1" stroke-linejoin="round"/>
<line x1="409.2" y1="57" x2="409.2" y2="87.5" stroke="#231f20" stroke-width="1.5"/>
<path d="M409.2 51.6 L412.4 58.9 L409.2 57.44 L406 58.9 Z" fill="#231f20"/>
<text x="415.84" y="71.9" style="font-family:'Liberation Sans',sans-serif;font-size:12.5px;font-style:italic" fill="#231f20">Δ</text>
<g fill="none" stroke="#231f20" stroke-linecap="round"><path d="M428.4 65.2 C428.32 64.5 427.52 64.23 427.07 64.5 C426.62 64.77 426.33 65.36 426.16 66 C425.59 68.14 424.45 71.46 423.55 73.07 C422.98 74.03 422.18 74.35 421.73 74.14 C421.39 73.98 421.27 73.71 421.31 73.41" stroke-width="0.6"/><path d="M426.16 66 C425.59 68.14 424.45 71.46 423.55 73.07" stroke-width="0.84"/><path d="M424.03 67.29 L427.02 67.29" stroke-width="0.6"/><circle cx="428.4" cy="65.2" r="0.44" fill="#231f20" stroke="none"/><circle cx="421.31" cy="73.41" r="0.4" fill="#231f20" stroke="none"/></g>
<text transform="translate(426.65,73) skewX(-10)" style="font-family:'Liberation Serif',serif;font-size:7px;font-style:italic" fill="#231f20">m</text>
<path d="M434 61.1 L434.65 62.71 L436.38 62.83 L435.05 63.94 L435.47 65.62 L434 64.7 L432.53 65.62 L432.95 63.94 L431.62 62.83 L433.35 62.71 Z" fill="#231f20"/>
<text transform="translate(540.2,25) rotate(45)" style="font-size:11px" fill="#2e3192">motor frequency</text>
<g fill="none" stroke="#2e3192" stroke-linecap="round"><path d="M636.2 40.36 C636.13 39.7 635.4 39.44 634.98 39.7 C634.57 39.95 634.31 40.51 634.15 41.12 C633.63 43.15 632.59 46.3 631.76 47.82 C631.24 48.74 630.51 49.04 630.09 48.84 C629.78 48.69 629.67 48.43 629.71 48.15" stroke-width="0.6"/><path d="M634.15 41.12 C633.63 43.15 632.59 46.3 631.76 47.82" stroke-width="0.84"/><path d="M632.2 42.34 L634.94 42.34" stroke-width="0.6"/><circle cx="636.2" cy="40.36" r="0.44" fill="#2e3192" stroke="none"/><circle cx="629.71" cy="48.15" r="0.4" fill="#2e3192" stroke="none"/></g>
<text transform="translate(633.97,47.5) skewX(-10)" style="font-family:'Liberation Serif',serif;font-size:6.5px;font-style:italic" fill="#2e3192">m</text>
<text x="640.74" y="46.65" style="font-family:'Liberation Sans',sans-serif;font-size:10.2px" fill="#2e3192" >&gt;</text>
<g fill="none" stroke="#2e3192" stroke-linecap="round"><path d="M652.2 40.36 C652.12 39.7 651.37 39.44 650.94 39.7 C650.52 39.95 650.25 40.51 650.09 41.12 C649.55 43.15 648.48 46.3 647.62 47.82 C647.08 48.74 646.33 49.04 645.9 48.84 C645.58 48.69 645.47 48.43 645.51 48.15" stroke-width="0.6"/><path d="M650.09 41.12 C649.55 43.15 648.48 46.3 647.62 47.82" stroke-width="0.84"/><path d="M648.08 42.34 L650.9 42.34" stroke-width="0.6"/><circle cx="652.2" cy="40.36" r="0.44" fill="#2e3192" stroke="none"/><circle cx="645.51" cy="48.15" r="0.4" fill="#2e3192" stroke="none"/></g>
<text transform="translate(650.62,47.6) skewX(-10)" style="font-family:'Liberation Serif',serif;font-size:6.5px;font-style:italic" fill="#2e3192">p</text>
<text x="637.34" y="60.1" style="font-family:'Liberation Sans',sans-serif;font-size:11px" fill="#2e3192" >or</text>
<g fill="none" stroke="#2e3192" stroke-linecap="round"><path d="M635.8 66.61 C635.73 65.99 635.07 65.75 634.69 65.99 C634.32 66.23 634.08 66.75 633.94 67.32 C633.47 69.22 632.52 72.17 631.77 73.59 C631.29 74.45 630.63 74.73 630.25 74.54 C629.97 74.4 629.88 74.16 629.9 73.9" stroke-width="0.6"/><path d="M633.94 67.32 C633.47 69.22 632.52 72.17 631.77 73.59" stroke-width="0.84"/><path d="M632.17 68.46 L634.66 68.46" stroke-width="0.6"/><circle cx="635.8" cy="66.61" r="0.44" fill="#2e3192" stroke="none"/><circle cx="629.9" cy="73.9" r="0.4" fill="#2e3192" stroke="none"/></g>
<text transform="translate(633.27,73.3) skewX(-10)" style="font-family:'Liberation Serif',serif;font-size:6.5px;font-style:italic" fill="#2e3192">m</text>
<text x="640.34" y="73.2" style="font-family:'Liberation Sans',sans-serif;font-size:10.2px" fill="#2e3192" >&lt;</text>
<g fill="none" stroke="#2e3192" stroke-linecap="round"><path d="M651.9 66.61 C651.82 65.99 651.05 65.75 650.61 65.99 C650.17 66.23 649.89 66.75 649.72 67.32 C649.17 69.22 648.07 72.17 647.18 73.59 C646.63 74.45 645.86 74.73 645.41 74.54 C645.08 74.4 644.97 74.16 645.01 73.9" stroke-width="0.6"/><path d="M649.72 67.32 C649.17 69.22 648.07 72.17 647.18 73.59" stroke-width="0.84"/><path d="M647.66 68.46 L650.56 68.46" stroke-width="0.6"/><circle cx="651.9" cy="66.61" r="0.44" fill="#2e3192" stroke="none"/><circle cx="645.01" cy="73.9" r="0.4" fill="#2e3192" stroke="none"/></g>
<text transform="translate(649.82,74) skewX(-10)" style="font-family:'Liberation Serif',serif;font-size:6.5px;font-style:italic" fill="#2e3192">p</text>
<text x="385.49" y="101.4" style="font-family:'Liberation Sans',sans-serif;font-size:11px" fill="#c81ec8" >step frequency,</text>
<g fill="none" stroke="#c81ec8" stroke-linecap="round"><path d="M467.5 95.41 C467.43 94.79 466.75 94.55 466.36 94.79 C465.97 95.03 465.72 95.55 465.58 96.12 C465.09 98.02 464.11 100.97 463.33 102.39 C462.84 103.25 462.16 103.53 461.77 103.34 C461.47 103.2 461.38 102.96 461.4 102.7" stroke-width="0.6"/><path d="M465.58 96.12 C465.09 98.02 464.11 100.97 463.33 102.39" stroke-width="0.84"/><path d="M463.75 97.26 L466.32 97.26" stroke-width="0.6"/><circle cx="467.5" cy="95.41" r="0.44" fill="#c81ec8" stroke="none"/><circle cx="461.4" cy="102.7" r="0.4" fill="#c81ec8" stroke="none"/></g>
<text transform="translate(464.83,102.6) skewX(-10)" style="font-family:'Liberation Serif',serif;font-size:6.2px;font-style:italic" fill="#c81ec8">s</text>
<g fill="none" stroke="#231f20" stroke-linecap="round"><path d="M518.6 97.5 C518.51 96.72 517.61 96.41 517.1 96.72 C516.59 97.02 516.27 97.69 516.08 98.41 C515.44 100.84 514.15 104.6 513.13 106.42 C512.49 107.51 511.59 107.87 511.08 107.63 C510.7 107.45 510.57 107.14 510.61 106.8" stroke-width="0.6"/><path d="M516.08 98.41 C515.44 100.84 514.15 104.6 513.13 106.42" stroke-width="0.84"/><path d="M513.68 99.87 L517.05 99.87" stroke-width="0.6"/><circle cx="518.6" cy="97.5" r="0.44" fill="#231f20" stroke="none"/><circle cx="510.61" cy="106.8" r="0.4" fill="#231f20" stroke="none"/></g>
<text transform="translate(516.97,107.1) skewX(-10)" style="font-family:'Liberation Serif',serif;font-size:8px;font-style:italic" fill="#231f20">p</text>
<path d="M510.5 98.7 Q506.5 98.6 504.3 95.6" fill="none" stroke="#231f20" stroke-width="0.9"/>
<path d="M501.9 92.7 L506.45 95.21 L504.59 96.08 L503.32 97.7 Z" fill="#231f20"/>
<path d="M383.5 186.6 L434.2 186.6 L434.2 136.8 L592.2 136.8 L592.2 186.6 L642.7 186.6" fill="none" stroke="#c1272d" stroke-width="1.9" stroke-linejoin="miter"/>
<text x="463.77" y="148.9" style="font-family:'Liberation Sans',sans-serif;font-size:11px" fill="#c1272d" >motor amplitude,</text>
<text x="549.03" y="149.1" style="font-family:'Liberation Serif',serif;font-size:11.5px;font-style:italic" fill="#c1272d">A</text>
<text transform="translate(555.75,149.7) skewX(-10)" style="font-family:'Liberation Serif',serif;font-size:7px;font-style:italic" fill="#c1272d">m</text>
<line x1="600.6" y1="141" x2="600.6" y2="180" stroke="#c1272d" stroke-width="1.1"/>
<path d="M600.6 137.8 L602.5 142.3 L600.6 141.4 L598.7 142.3 Z" fill="#c1272d"/>
<path d="M600.6 183.2 L602.5 178.7 L600.6 179.6 L598.7 178.7 Z" fill="#c1272d"/>
<text x="605.49" y="156.8" style="font-family:'Liberation Serif',serif;font-size:10.8px;font-style:italic" fill="#c1272d">A</text>
<text transform="translate(611.57,157) skewX(-10)" style="font-family:'Liberation Serif',serif;font-size:6.5px;font-style:italic" fill="#c1272d">m</text>
<text x="619.47" y="156.7" style="font-family:'Liberation Sans',sans-serif;font-size:10.8px" fill="#c1272d" >=</text>
<text x="605.09" y="169.9" style="font-family:'Liberation Sans',sans-serif;font-size:10.6px" fill="#c1272d" >10, 20, 30% BW</text>
<path d="M383.5 211.3 L383.75 211.3 L384 211.3 L384.25 211.3 L384.5 211.3 L384.75 211.3 L385 211.3 L385.25 211.3 L385.5 211.3 L385.75 211.3 L386 211.3 L386.25 211.3 L386.5 211.3 L386.75 211.3 L387 211.3 L387.25 211.3 L387.5 211.3 L387.75 211.3 L388 211.3 L388.25 211.3 L388.5 211.3 L388.75 211.3 L389 211.3 L389.25 211.3 L389.5 211.3 L389.75 211.3 L390 211.3 L390.25 211.3 L390.5 211.3 L390.75 211.3 L391 211.3 L391.25 211.3 L391.5 211.3 L391.75 211.3 L392 211.3 L392.25 211.3 L392.5 211.3 L392.75 211.3 L393 211.3 L393.25 211.3 L393.5 211.3 L393.75 211.3 L394 211.3 L394.25 211.3 L394.5 211.3 L394.75 211.3 L395 211.3 L395.25 211.3 L395.5 211.3 L395.75 211.3 L396 211.3 L396.25 211.3 L396.5 211.3 L396.75 211.3 L397 211.3 L397.25 211.3 L397.5 211.3 L397.75 211.3 L398 211.3 L398.25 211.3 L398.5 211.3 L398.75 211.3 L399 211.3 L399.25 211.3 L399.5 211.3 L399.75 211.3 L400 211.3 L400.25 211.3 L400.5 211.3 L400.75 211.3 L401 211.3 L401.25 211.3 L401.5 211.3 L401.75 211.3 L402 211.3 L402.25 211.3 L402.5 211.3 L402.75 211.3 L403 211.3 L403.25 211.3 L403.5 211.3 L403.75 211.3 L404 211.3 L404.25 211.3 L404.5 211.3 L404.75 211.3 L405 211.3 L405.25 211.3 L405.5 211.3 L405.75 211.3 L406 211.3 L406.25 211.3 L406.5 211.3 L406.75 211.3 L407 211.3 L407.25 211.3 L407.5 211.3 L407.75 211.3 L408 211.3 L408.25 211.3 L408.5 211.3 L408.75 211.3 L409 211.3 L409.25 211.3 L409.5 211.3 L409.75 211.3 L410 211.3 L410.25 211.3 L410.5 211.3 L410.75 211.3 L411 211.3 L411.25 211.3 L411.5 211.3 L411.75 211.3 L412 211.3 L412.25 211.3 L412.5 211.3 L412.75 211.3 L413 211.3 L413.25 211.3 L413.5 211.3 L413.75 211.3 L414 211.3 L414.25 211.3 L414.5 211.3 L414.75 211.3 L415 211.3 L415.25 211.3 L415.5 211.3 L415.75 211.3 L416 211.3 L416.25 211.3 L416.5 211.3 L416.75 211.3 L417 211.3 L417.25 211.3 L417.5 211.3 L417.75 211.3 L418 211.3 L418.25 211.3 L418.5 211.3 L418.75 211.3 L419 211.3 L419.25 211.3 L419.5 211.3 L419.75 211.3 L420 211.3 L420.25 211.3 L420.5 211.3 L420.75 211.3 L421 211.3 L421.25 211.3 L421.5 211.3 L421.75 211.3 L422 211.3 L422.25 211.3 L422.5 211.3 L422.75 211.3 L423 211.3 L423.25 211.3 L423.5 211.3 L423.75 211.3 L424 211.3 L424.25 211.3 L424.5 211.3 L424.75 211.3 L425 211.3 L425.25 211.3 L425.5 211.3 L425.75 211.3 L426 211.3 L426.25 211.3 L426.5 211.3 L426.75 211.3 L427 211.3 L427.25 211.3 L427.5 211.3 L427.75 211.3 L428 211.3 L428.25 211.3 L428.5 211.3 L428.75 211.3 L429 211.3 L429.25 211.3 L429.5 211.3 L429.75 211.3 L430 211.3 L430.25 211.3 L430.5 211.3 L430.75 211.3 L431 211.3 L431.25 211.3 L431.5 211.3 L431.75 211.3 L432 211.3 L432.25 211.3 L432.5 211.3 L432.75 211.3 L433 211.3 L433.25 211.3 L433.5 211.3 L433.75 211.3 L434 211.3 L434.25 211.3 L434.5 211.04 L434.75 210.72 L435 210.39 L435.25 210.07 L435.5 209.75 L435.75 209.44 L436 209.12 L436.25 208.82 L436.5 208.51 L436.75 208.21 L437 207.92 L437.25 207.63 L437.5 207.35 L437.75 207.08 L438 206.81 L438.25 206.55 L438.5 206.3 L438.75 206.06 L439 205.83 L439.25 205.61 L439.5 205.4 L439.75 205.2 L440 205.01 L440.25 204.84 L440.5 204.67 L440.75 204.52 L441 204.38 L441.25 204.25 L441.5 204.14 L441.75 204.04 L442 203.95 L442.25 203.87 L442.5 203.81 L442.75 203.76 L443 203.73 L443.25 203.71 L443.5 203.7 L443.75 203.71 L444 203.73 L444.25 203.76 L444.5 203.81 L444.75 203.87 L445 203.94 L445.25 204.03 L445.5 204.13 L445.75 204.24 L446 204.37 L446.25 204.5 L446.5 204.65 L446.75 204.81 L447 204.98 L447.25 205.16 L447.5 205.35 L447.75 205.55 L448 205.77 L448.25 205.99 L448.5 206.22 L448.75 206.45 L449 206.7 L449.25 206.96 L449.5 207.22 L449.75 207.49 L450 207.76 L450.25 208.04 L450.5 208.33 L450.75 208.62 L451 208.92 L451.25 209.22 L451.5 209.52 L451.75 209.83 L452 210.14 L452.25 210.46 L452.5 210.77 L452.75 211.09 L453 211.4 L453.25 211.72 L453.5 212.04 L453.75 212.35 L454 212.67 L454.25 212.98 L454.5 213.29 L454.75 213.59 L455 213.9 L455.25 214.2 L455.5 214.49 L455.75 214.78 L456 215.06 L456.25 215.34 L456.5 215.61 L456.75 215.87 L457 216.13 L457.25 216.38 L457.5 216.62 L457.75 216.84 L458 217.06 L458.25 217.27 L458.5 217.47 L458.75 217.66 L459 217.83 L459.25 218 L459.5 218.15 L459.75 218.29 L460 218.41 L460.25 218.53 L460.5 218.62 L460.75 218.71 L461 218.78 L461.25 218.83 L461.5 218.87 L461.75 218.89 L462 218.9 L462.25 218.89 L462.5 218.87 L462.75 218.83 L463 218.77 L463.25 218.7 L463.5 218.61 L463.75 218.51 L464 218.39 L464.25 218.26 L464.5 218.11 L464.75 217.95 L465 217.77 L465.25 217.58 L465.5 217.37 L465.75 217.15 L466 216.91 L466.25 216.67 L466.5 216.41 L466.75 216.14 L467 215.86 L467.25 215.56 L467.5 215.26 L467.75 214.95 L468 214.62 L468.25 214.29 L468.5 213.96 L468.75 213.61 L469 213.26 L469.25 212.9 L469.5 212.54 L469.75 212.18 L470 211.81 L470.25 211.44 L470.5 211.06 L470.75 210.69 L471 210.32 L471.25 209.95 L471.5 209.58 L471.75 209.22 L472 208.86 L472.25 208.5 L472.5 208.15 L472.75 207.81 L473 207.47 L473.25 207.14 L473.5 206.83 L473.75 206.52 L474 206.23 L474.25 205.94 L474.5 205.67 L474.75 205.42 L475 205.18 L475.25 204.95 L475.5 204.74 L475.75 204.55 L476 204.38 L476.25 204.22 L476.5 204.09 L476.75 203.97 L477 203.87 L477.25 203.8 L477.5 203.74 L477.75 203.71 L478 203.7 L478.25 203.71 L478.5 203.74 L478.75 203.8 L479 203.88 L479.25 203.98 L479.5 204.1 L479.75 204.24 L480 204.41 L480.25 204.59 L480.5 204.8 L480.75 205.03 L481 205.27 L481.25 205.54 L481.5 205.83 L481.75 206.13 L482 206.45 L482.25 206.79 L482.5 207.14 L482.75 207.51 L483 207.89 L483.25 208.28 L483.5 208.69 L483.75 209.1 L484 209.53 L484.25 209.96 L484.5 210.4 L484.75 210.84 L485 211.29 L485.25 211.74 L485.5 212.19 L485.75 212.64 L486 213.09 L486.25 213.53 L486.5 213.97 L486.75 214.4 L487 214.82 L487.25 215.23 L487.5 215.62 L487.75 216 L488 216.37 L488.25 216.72 L488.5 217.05 L488.75 217.35 L489 217.64 L489.25 217.89 L489.5 218.13 L489.75 218.33 L490 218.51 L490.25 218.65 L490.5 218.76 L490.75 218.84 L491 218.89 L491.25 218.9 L491.5 218.87 L491.75 218.81 L492 218.71 L492.25 218.58 L492.5 218.4 L492.75 218.19 L493 217.94 L493.25 217.66 L493.5 217.34 L493.75 216.98 L494 216.59 L494.25 216.17 L494.5 215.71 L494.75 215.23 L495 214.72 L495.25 214.19 L495.5 213.64 L495.75 213.06 L496 212.48 L496.25 211.88 L496.5 211.27 L496.75 210.66 L497 210.05 L497.25 209.45 L497.5 208.85 L497.75 208.26 L498 207.7 L498.25 207.15 L498.5 206.63 L498.75 206.14 L499 205.68 L499.25 205.26 L499.5 204.89 L499.75 204.56 L500 204.28 L500.25 204.05 L500.5 203.88 L500.75 203.76 L501 203.7 L501.25 203.71 L501.5 203.78 L501.75 203.91 L502 204.11 L502.25 204.38 L502.5 204.71 L502.75 205.11 L503 205.56 L503.25 206.08 L503.5 206.65 L503.75 207.27 L504 207.94 L504.25 208.65 L504.5 209.4 L504.75 210.16 L505 210.95 L505.25 211.75 L505.5 212.54 L505.75 213.33 L506 214.1 L506.25 214.84 L506.5 215.55 L506.75 216.21 L507 216.81 L507.25 217.35 L507.5 217.82 L507.75 218.22 L508 218.52 L508.25 218.74 L508.5 218.87 L508.75 218.9 L509 218.83 L509.25 218.66 L509.5 218.39 L509.75 218.02 L510 217.56 L510.25 217.01 L510.5 216.36 L510.75 215.64 L511 214.86 L511.25 214.01 L511.5 213.11 L511.75 212.18 L512 211.24 L512.25 210.28 L512.5 209.34 L512.75 208.42 L513 207.54 L513.25 206.72 L513.5 205.98 L513.75 205.31 L514 204.75 L514.25 204.3 L514.5 203.97 L514.75 203.77 L515 203.7 L515.25 203.77 L515.5 203.98 L515.75 204.33 L516 204.81 L516.25 205.42 L516.5 206.16 L516.75 207 L517 207.94 L517.25 208.95 L517.5 210.02 L517.75 211.12 L518 212.23 L518.25 213.33 L518.5 214.39 L518.75 215.39 L519 216.3 L519.25 217.1 L519.5 217.78 L519.75 218.3 L520 218.67 L520.25 218.87 L520.5 218.89 L520.75 218.72 L521 218.38 L521.25 217.85 L521.5 217.16 L521.75 216.32 L522 215.34 L522.25 214.25 L522.5 213.08 L522.75 211.85 L523 210.6 L523.25 209.37 L523.5 208.18 L523.75 207.07 L524 206.08 L524.25 205.23 L524.5 204.55 L524.75 204.05 L525 203.77 L525.25 203.7 L525.5 203.86 L525.75 204.24 L526 204.85 L526.25 205.66 L526.5 206.65 L526.75 207.8 L527 209.07 L527.25 210.41 L527.5 211.79 L527.75 213.15 L528 214.45 L528.25 215.64 L528.5 216.69 L528.75 217.56 L529 218.23 L529.25 218.67 L529.5 218.88 L529.75 218.86 L530 218.61 L530.25 218.14 L530.5 217.48 L530.75 216.64 L531 215.65 L531.25 214.53 L531.5 213.33 L531.75 212.07 L532 210.79 L532.25 209.52 L532.5 208.3 L532.75 207.17 L533 206.15 L533.25 205.28 L533.5 204.57 L533.75 204.07 L534 203.77 L534.25 203.7 L534.5 203.87 L534.75 204.27 L535 204.9 L535.25 205.74 L535.5 206.77 L535.75 207.95 L536 209.25 L536.25 210.62 L536.5 212 L536.75 213.36 L537 214.65 L537.25 215.81 L537.5 216.83 L537.75 217.65 L538 218.28 L538.25 218.69 L538.5 218.88 L538.75 218.86 L539 218.64 L539.25 218.23 L539.5 217.66 L539.75 216.93 L540 216.07 L540.25 215.12 L540.5 214.08 L540.75 212.98 L541 211.85 L541.25 210.71 L541.5 209.59 L541.75 208.5 L542 207.48 L542.25 206.54 L542.5 205.7 L542.75 204.99 L543 204.41 L543.25 204 L543.5 203.76 L543.75 203.7 L544 203.84 L544.25 204.18 L544.5 204.72 L544.75 205.45 L545 206.35 L545.25 207.4 L545.5 208.57 L545.75 209.83 L546 211.12 L546.25 212.41 L546.5 213.66 L546.75 214.84 L547 215.9 L547.25 216.82 L547.5 217.58 L547.75 218.17 L548 218.58 L548.25 218.82 L548.5 218.9 L548.75 218.83 L549 218.61 L549.25 218.27 L549.5 217.81 L549.75 217.24 L550 216.59 L550.25 215.85 L550.5 215.06 L550.75 214.22 L551 213.34 L551.25 212.44 L551.5 211.54 L551.75 210.64 L552 209.75 L552.25 208.9 L552.5 208.08 L552.75 207.31 L553 206.6 L553.25 205.95 L553.5 205.38 L553.75 204.88 L554 204.46 L554.25 204.13 L554.5 203.89 L554.75 203.75 L555 203.7 L555.25 203.75 L555.5 203.89 L555.75 204.13 L556 204.46 L556.25 204.88 L556.5 205.38 L556.75 205.95 L557 206.59 L557.25 207.28 L557.5 208.02 L557.75 208.8 L558 209.61 L558.25 210.43 L558.5 211.25 L558.75 212.07 L559 212.88 L559.25 213.66 L559.5 214.41 L559.75 215.12 L560 215.78 L560.25 216.39 L560.5 216.94 L560.75 217.42 L561 217.84 L561.25 218.19 L561.5 218.47 L561.75 218.68 L562 218.82 L562.25 218.89 L562.5 218.89 L562.75 218.84 L563 218.72 L563.25 218.54 L563.5 218.31 L563.75 218.03 L564 217.69 L564.25 217.31 L564.5 216.88 L564.75 216.42 L565 215.92 L565.25 215.4 L565.5 214.84 L565.75 214.27 L566 213.68 L566.25 213.08 L566.5 212.47 L566.75 211.86 L567 211.25 L567.25 210.65 L567.5 210.05 L567.75 209.47 L568 208.9 L568.25 208.35 L568.5 207.82 L568.75 207.31 L569 206.84 L569.25 206.39 L569.5 205.97 L569.75 205.59 L570 205.23 L570.25 204.92 L570.5 204.64 L570.75 204.39 L571 204.19 L571.25 204.02 L571.5 203.88 L571.75 203.79 L572 203.73 L572.25 203.7 L572.5 203.71 L572.75 203.76 L573 203.83 L573.25 203.94 L573.5 204.08 L573.75 204.24 L574 204.44 L574.25 204.66 L574.5 204.9 L574.75 205.16 L575 205.45 L575.25 205.75 L575.5 206.07 L575.75 206.41 L576 206.76 L576.25 207.13 L576.5 207.51 L576.75 207.9 L577 208.29 L577.25 208.7 L577.5 209.11 L577.75 209.53 L578 209.95 L578.25 210.37 L578.5 210.79 L578.75 211.22 L579 211.64 L579.25 212.06 L579.5 212.48 L579.75 212.89 L580 213.3 L580.25 213.7 L580.5 214.09 L580.75 214.47 L581 214.85 L581.25 215.21 L581.5 215.56 L581.75 215.9 L582 216.23 L582.25 216.54 L582.5 216.84 L582.75 217.12 L583 217.38 L583.25 217.63 L583.5 217.85 L583.75 218.06 L584 218.25 L584.25 218.41 L584.5 218.55 L584.75 218.67 L585 218.77 L585.25 218.84 L585.5 218.88 L585.75 218.9 L586 218.89 L586.25 218.86 L586.5 218.79 L586.75 218.71 L587 218.59 L587.25 218.45 L587.5 218.28 L587.75 218.08 L588 217.87 L588.25 217.62 L588.5 217.36 L588.75 217.07 L589 216.76 L589.25 216.43 L589.5 216.08 L589.75 215.71 L590 215.32 L590.25 214.92 L590.5 214.51 L590.75 214.09 L591 213.65 L591.25 213.21 L591.5 212.76 L591.75 212.31 L592 211.85 L592.25 211.39 L592.5 211.3 L592.75 211.3 L593 211.3 L593.25 211.3 L593.5 211.3 L593.75 211.3 L594 211.3 L594.25 211.3 L594.5 211.3 L594.75 211.3 L595 211.3 L595.25 211.3 L595.5 211.3 L595.75 211.3 L596 211.3 L596.25 211.3 L596.5 211.3 L596.75 211.3 L597 211.3 L597.25 211.3 L597.5 211.3 L597.75 211.3 L598 211.3 L598.25 211.3 L598.5 211.3 L598.75 211.3 L599 211.3 L599.25 211.3 L599.5 211.3 L599.75 211.3 L600 211.3 L600.25 211.3 L600.5 211.3 L600.75 211.3 L601 211.3 L601.25 211.3 L601.5 211.3 L601.75 211.3 L602 211.3 L602.25 211.3 L602.5 211.3 L602.75 211.3 L603 211.3 L603.25 211.3 L603.5 211.3 L603.75 211.3 L604 211.3 L604.25 211.3 L604.5 211.3 L604.75 211.3 L605 211.3 L605.25 211.3 L605.5 211.3 L605.75 211.3 L606 211.3 L606.25 211.3 L606.5 211.3 L606.75 211.3 L607 211.3 L607.25 211.3 L607.5 211.3 L607.75 211.3 L608 211.3 L608.25 211.3 L608.5 211.3 L608.75 211.3 L609 211.3 L609.25 211.3 L609.5 211.3 L609.75 211.3 L610 211.3 L610.25 211.3 L610.5 211.3 L610.75 211.3 L611 211.3 L611.25 211.3 L611.5 211.3 L611.75 211.3 L612 211.3 L612.25 211.3 L612.5 211.3 L612.75 211.3 L613 211.3 L613.25 211.3 L613.5 211.3 L613.75 211.3 L614 211.3 L614.25 211.3 L614.5 211.3 L614.75 211.3 L615 211.3 L615.25 211.3 L615.5 211.3 L615.75 211.3 L616 211.3 L616.25 211.3 L616.5 211.3 L616.75 211.3 L617 211.3 L617.25 211.3 L617.5 211.3 L617.75 211.3 L618 211.3 L618.25 211.3 L618.5 211.3 L618.75 211.3 L619 211.3 L619.25 211.3 L619.5 211.3 L619.75 211.3 L620 211.3 L620.25 211.3 L620.5 211.3 L620.75 211.3 L621 211.3 L621.25 211.3 L621.5 211.3 L621.75 211.3 L622 211.3 L622.25 211.3 L622.5 211.3 L622.75 211.3 L623 211.3 L623.25 211.3 L623.5 211.3 L623.75 211.3 L624 211.3 L624.25 211.3 L624.5 211.3 L624.75 211.3 L625 211.3 L625.25 211.3 L625.5 211.3 L625.75 211.3 L626 211.3 L626.25 211.3 L626.5 211.3 L626.75 211.3 L627 211.3 L627.25 211.3 L627.5 211.3 L627.75 211.3 L628 211.3 L628.25 211.3 L628.5 211.3 L628.75 211.3 L629 211.3 L629.25 211.3 L629.5 211.3 L629.75 211.3 L630 211.3 L630.25 211.3 L630.5 211.3 L630.75 211.3 L631 211.3 L631.25 211.3 L631.5 211.3 L631.75 211.3 L632 211.3 L632.25 211.3 L632.5 211.3 L632.75 211.3 L633 211.3 L633.25 211.3 L633.5 211.3 L633.75 211.3 L634 211.3 L634.25 211.3 L634.5 211.3 L634.75 211.3 L635 211.3 L635.25 211.3 L635.5 211.3 L635.75 211.3 L636 211.3 L636.25 211.3 L636.5 211.3 L636.75 211.3 L637 211.3 L637.25 211.3 L637.5 211.3 L637.75 211.3 L638 211.3 L638.25 211.3 L638.5 211.3 L638.75 211.3 L639 211.3 L639.25 211.3 L639.5 211.3 L639.75 211.3 L640 211.3 L640.25 211.3 L640.5 211.3 L640.75 211.3 L641 211.3 L641.25 211.3 L641.5 211.3 L641.75 211.3 L642 211.3 L642.25 211.3 L642.5 211.3" fill="none" stroke="#e8222a" stroke-width="1.6" stroke-linejoin="round"/>
<text x="598.04" y="221.4" style="font-family:'Liberation Sans',sans-serif;font-size:9.8px" fill="#58595b" >*waveform</text>
<text x="597.56" y="230.7" style="font-family:'Liberation Sans',sans-serif;font-size:9.6px" fill="#58595b" >not to scale</text>
</svg>
</body></html>
